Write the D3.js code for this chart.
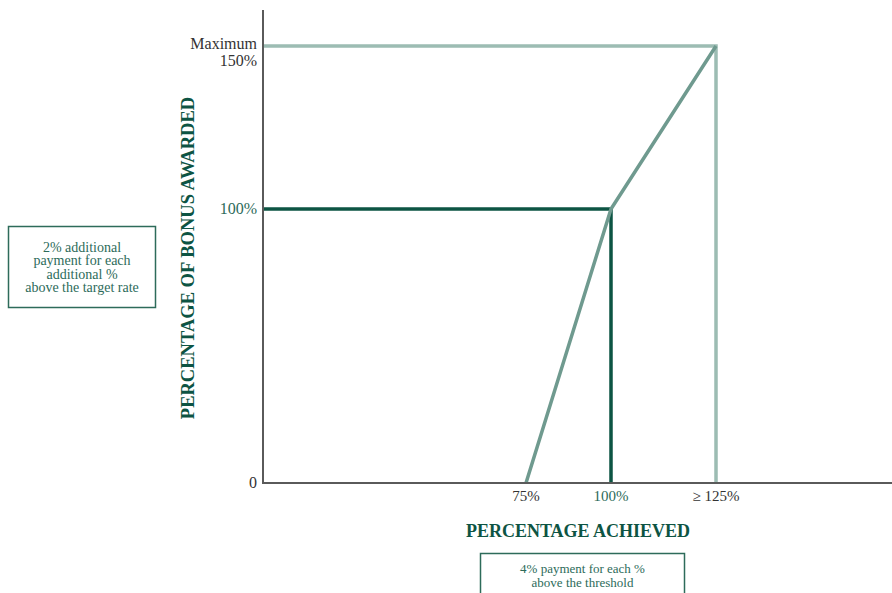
<!DOCTYPE html>
<html><head><meta charset="utf-8">
<script src="https://cdn.jsdelivr.net/npm/d3@7"></script>
<style>body{margin:0;background:#fff}svg{display:block}text{font-family:"Liberation Serif","DejaVu Serif",serif}</style>
</head><body><div id="c"></div>
<script>
const achieved = [75, 100, 125];
const bonus = [0, 100, 150];
const xTickLabels = ["75%", "100%", "≥ 125%"];
const yTickValues = [0, 100, 150];
const yTickLabels = [["0"], ["100%"], ["Maximum", "150%"]];
const targetX = 100, targetY = 100;
const maxX = 125, maxY = 150;

const W = 892, H = 593;
const svg = d3.select("#c").append("svg").attr("width", W).attr("height", H);
const x = d3.scaleLinear().domain([75, 100, 125]).range([526, 611, 716]);
const y = d3.scaleLinear().domain([0, 100, 150]).range([483, 209, 46]);
const x0 = 263, x1 = 892, yTop = 10;

const dark = "#0d5443", mid = "#6f9a8f", light = "#9cbcb3", axisC = "#5a5a5a", txtG = "#2d6b5a";

// reference lines
svg.append("path").attr("fill", "none").attr("stroke", light).attr("stroke-width", 3.5)
  .attr("d", `M${x0},${y(maxY)}H${x(maxX)}V${y(0)}`);
svg.append("path").attr("fill", "none").attr("stroke", dark).attr("stroke-width", 3.5)
  .attr("d", `M${x0},${y(targetY)}H${x(targetX)}V${y(0)}`);
// payout curve
svg.append("path").datum(achieved.map((a, i) => [a, bonus[i]]))
  .attr("fill", "none").attr("stroke", mid).attr("stroke-width", 3.5).attr("stroke-linejoin", "round")
  .attr("d", d3.line().x(d => x(d[0])).y(d => y(d[1])));

// axes
svg.append("path").attr("fill", "none").attr("stroke", axisC).attr("stroke-width", 2)
  .attr("d", `M${x0},${yTop}V${y(0)}H${x1}`);

// y tick labels
yTickValues.forEach((v, i) => {
  const lines = yTickLabels[i];
  const t = svg.append("text").attr("text-anchor", "end").attr("font-size", 16)
    .attr("fill", v === 100 ? txtG : "#333");
  const n = lines.length;
  lines.forEach((l, j) => {
    t.append("tspan").attr("x", 257).attr("y", y(v) + 5 + (j - (n - 1)) * 17 + (n > 1 ? 15 : 0)).text(l);
  });
});
// x tick labels
achieved.forEach((a, i) => {
  svg.append("text").attr("x", x(a)).attr("y", 501).attr("text-anchor", "middle").attr("font-size", 15)
    .attr("fill", a === 100 ? txtG : "#333").text(xTickLabels[i]);
});

// axis titles
svg.append("text").attr("transform", "translate(194,258) rotate(-90)").attr("text-anchor", "middle")
  .attr("font-size", 18.5).attr("font-weight", "bold").attr("fill", dark).text("PERCENTAGE OF BONUS AWARDED");
svg.append("text").attr("x", 578).attr("y", 537).attr("text-anchor", "middle")
  .attr("font-size", 18).attr("font-weight", "bold").attr("fill", dark).text("PERCENTAGE ACHIEVED");

// annotation boxes
function box(bx, by, bw, bh, lines, ty, fs, lh) {
  svg.append("rect").attr("x", bx).attr("y", by).attr("width", bw).attr("height", bh)
    .attr("fill", "none").attr("stroke", txtG).attr("stroke-width", 1.5);
  const t = svg.append("text").attr("text-anchor", "middle").attr("font-size", fs).attr("fill", txtG);
  lines.forEach((l, j) => t.append("tspan").attr("x", bx + bw / 2).attr("y", ty + j * lh).text(l));
}
box(8.5, 226.5, 147, 81, ["2% additional", "payment for each", "additional %", "above the target rate"], 252, 14, 13.3);
box(480.5, 553.5, 204, 45, ["4% payment for each %", "above the threshold"], 573, 13, 13.5);
</script></body></html>
